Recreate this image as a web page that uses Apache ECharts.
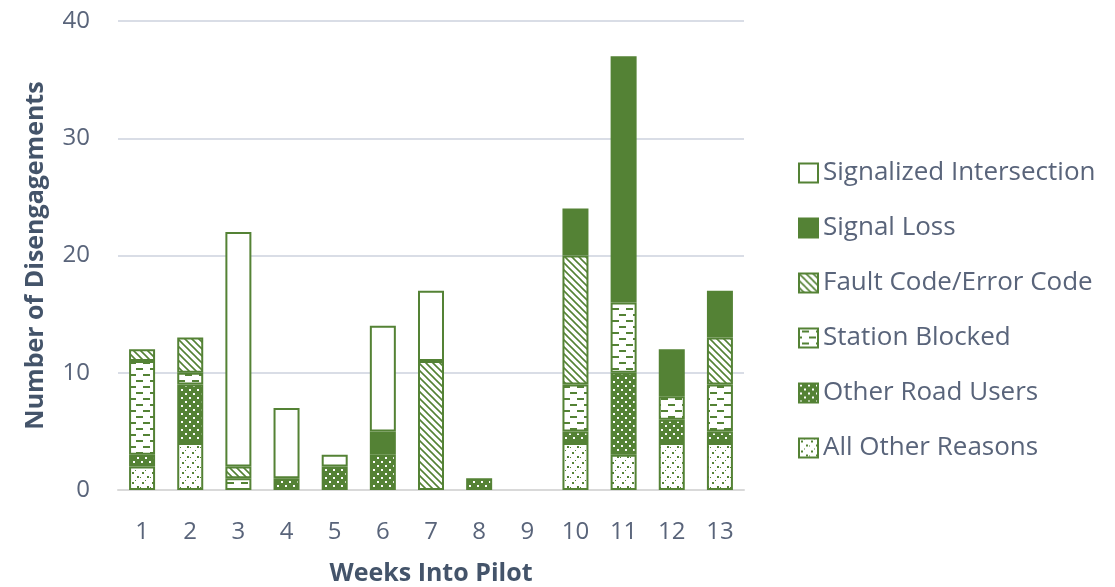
<!DOCTYPE html>
<html>
<head>
<meta charset="utf-8">
<script src="https://cdn.jsdelivr.net/npm/echarts@6/dist/echarts.min.js"></script>
<style>html,body{margin:0;padding:0;background:#fff;}#chart{width:1115px;height:587px;}</style>
</head>
<body>
<div id="chart"></div>
<script>
var weeks = ['1','2','3','4','5','6','7','8','9','10','11','12','13'];
var allOtherReasons      = [2,4,0,0,0,0,0,0,0,4,3,4,4];
var otherRoadUsers       = [1,5,0,1,2,3,0,1,0,1,7,2,1];
var stationBlocked       = [8,1,1,0,0,0,0,0,0,4,6,2,4];
var faultCode            = [1,3,1,0,0,0,11,0,0,11,0,0,4];
var signalLoss           = [0,0,0,0,0,2,0,0,0,4,21,4,4];
var signalizedIntersection = [0,0,20,6,1,9,6,0,0,0,0,0,0];
var yTicks = [0,10,20,30,40];

var G = '#548235';
function mk(w,h,draw){var c=document.createElement('canvas');c.width=w;c.height=h;var x=c.getContext('2d');draw(x);return {image:c,repeat:'repeat'};}
var patDiag = mk(7,7,function(x){x.fillStyle='#fff';x.fillRect(0,0,7,7);x.strokeStyle=G;x.lineWidth=1.6;x.beginPath();x.moveTo(-1,-1);x.lineTo(8,8);x.moveTo(-1,6);x.lineTo(1,8);x.moveTo(6,-1);x.lineTo(8,1);x.stroke();});
var patDash = mk(14,12,function(x){x.fillStyle='#fff';x.fillRect(0,0,14,12);x.fillStyle=G;x.fillRect(3,2,7,2);x.fillRect(10,8,7,2);x.fillRect(-4,8,7,2);});
var patDarkDots = mk(8,8,function(x){x.fillStyle=G;x.fillRect(0,0,8,8);x.fillStyle='#fff';x.fillRect(1,1,2,2);x.fillRect(5,5,2,2);});
var patLightDots = mk(10,10,function(x){x.fillStyle='#fff';x.fillRect(0,0,10,10);x.fillStyle=G;x.fillRect(2,2,2,2);x.fillRect(7,6,2,2);x.fillRect(5,0,1,1);x.fillRect(0,7,1,1);});

function ser(name,data,color){
  return {name:name,type:'bar',stack:'s',
    data:data.map(function(v){return v===0?'-':v;}),barWidth:26,
    itemStyle:{color:color,borderColor:G,borderWidth:2},
    emphasis:{disabled:true}};
}
var chart = echarts.init(document.getElementById('chart'),null,{renderer:'canvas'});
chart.setOption({
  animation:false,
  backgroundColor:'#fff',
  textStyle:{fontFamily:'Open Sans'},
  grid:{left:118,right:371,top:21,bottom:97,containLabel:false,outerBoundsMode:'none'},
  legend:{orient:'vertical',left:793,top:155,itemWidth:19,itemHeight:19,itemGap:29,
    icon:'rect',
    textStyle:{fontSize:26,color:'#59647a',fontFamily:'Open Sans'},
    data:['Signalized Intersection','Signal Loss','Fault Code/Error Code','Station Blocked','Other Road Users','All Other Reasons']},
  xAxis:{type:'category',data:weeks,
    name:'Weeks Into Pilot',nameLocation:'middle',nameGap:71,
    nameTextStyle:{fontSize:25,fontWeight:'bold',color:'#44546A'},
    axisLine:{show:true,lineStyle:{color:'#d9d9d9',width:2}},axisTick:{show:false},
    axisLabel:{fontSize:24,color:'#59647a',margin:30}},
  yAxis:{type:'value',min:0,max:40,interval:10,
    name:'Number of Disengagements',nameLocation:'middle',nameGap:70,
    nameTextStyle:{fontSize:25,fontWeight:'bold',color:'#44546A'},
    axisLabel:{fontSize:24,color:'#59647a',margin:28,formatter:function(v){return yTicks.indexOf(v)>=0?String(v):'';}},
    splitLine:{lineStyle:{color:'#d9dde6',width:2}},axisLine:{show:false},axisTick:{show:false}},
  series:[
    ser('All Other Reasons',allOtherReasons,patLightDots),
    ser('Other Road Users',otherRoadUsers,patDarkDots),
    ser('Station Blocked',stationBlocked,patDash),
    ser('Fault Code/Error Code',faultCode,patDiag),
    ser('Signal Loss',signalLoss,G),
    ser('Signalized Intersection',signalizedIntersection,'#fff')
  ]
});
</script>
</body>
</html>
